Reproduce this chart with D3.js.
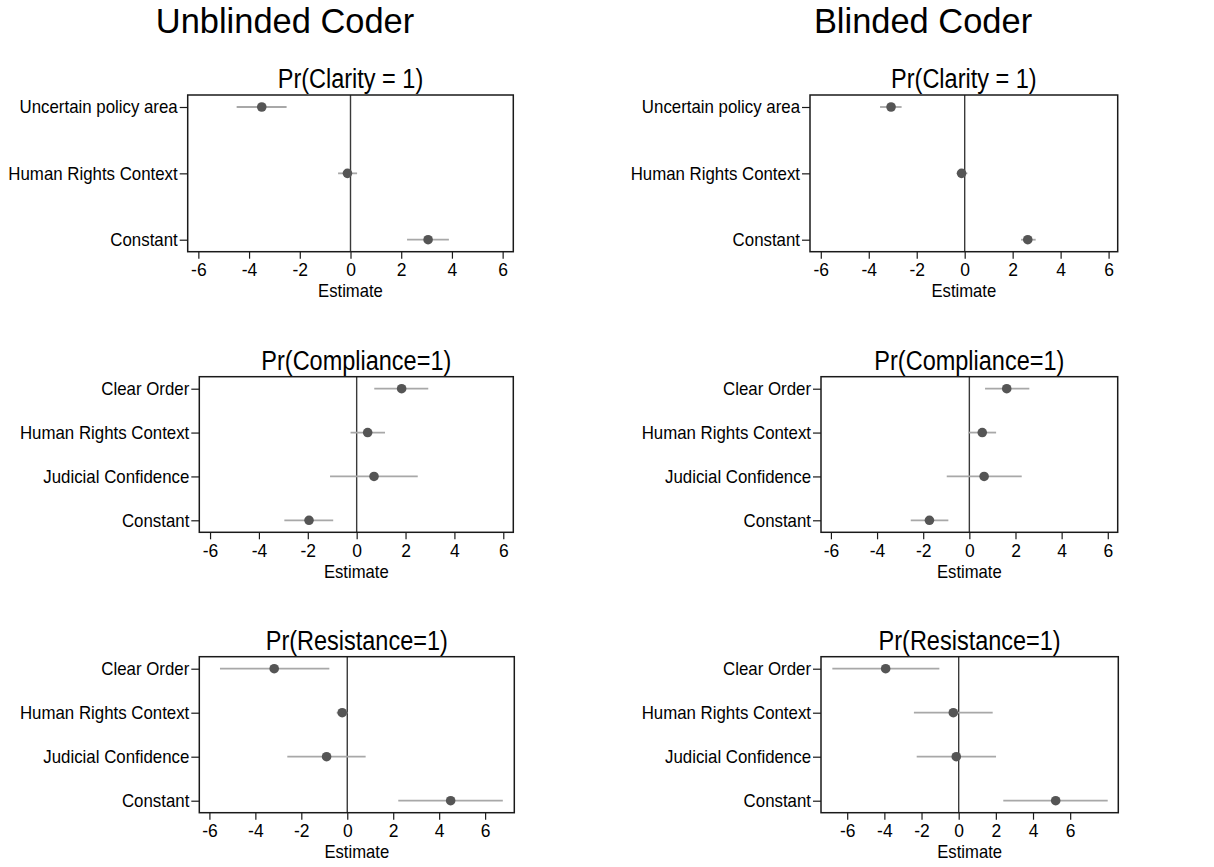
<!DOCTYPE html>
<html>
<head>
<meta charset="utf-8">
<script src="https://cdn.jsdelivr.net/npm/d3@7"></script>
<style>
  html, body { margin: 0; padding: 0; background: #fff; }
  svg { display: block; font-family: "Liberation Sans", Arial, Helvetica, sans-serif; }
</style>
</head>
<body>
<svg id="chart" width="1214" height="867"></svg>
<script>
// ---------- data ----------
const columnTitles = ["Unblinded Coder", "Blinded Coder"];
const panelTitles = ["Pr(Clarity = 1)", "Pr(Compliance=1)", "Pr(Resistance=1)"];
const clarityTerms = ["Uncertain policy area", "Human Rights Context", "Constant"];
const outcomeTerms = ["Clear Order", "Human Rights Context", "Judicial Confidence", "Constant"];
const xTicks = [-6, -4, -2, 0, 2, 4, 6];
const xAxisTitle = "Estimate";

// Unblinded coder
const clarityUnblindedEst = [-3.50, -0.12, 3.06];
const clarityUnblindedLo  = [-4.49, -0.49, 2.23];
const clarityUnblindedHi  = [-2.52,  0.26, 3.88];
const complianceUnblindedEst = [1.84, 0.45, 0.71, -1.95];
const complianceUnblindedLo  = [0.72, -0.25, -1.09, -2.96];
const complianceUnblindedHi  = [2.93, 1.16, 2.50, -0.96];
const resistanceUnblindedEst = [-3.18, -0.22, -0.90, 4.50];
const resistanceUnblindedLo  = [-5.54, -0.46, -2.61, 2.22];
const resistanceUnblindedHi  = [-0.78,  0.01,  0.80, 6.77];

// Blinded coder
const clarityBlindedEst = [-3.07, -0.13, 2.63];
const clarityBlindedLo  = [-3.53, -0.33, 2.35];
const clarityBlindedHi  = [-2.63,  0.11, 2.96];
const complianceBlindedEst = [1.62, 0.56, 0.64, -1.73];
const complianceBlindedLo  = [0.68, -0.04, -0.98, -2.54];
const complianceBlindedHi  = [2.60, 1.16, 2.27, -0.91];
const resistanceBlindedEst = [-3.93, -0.29, -0.13, 5.22];
const resistanceBlindedLo  = [-6.80, -2.41, -2.26, 2.40];
const resistanceBlindedHi  = [-1.04,  1.83,  2.01, 8.02];

// ---------- layout ----------
const panels = [
  { title: panelTitles[0], terms: clarityTerms, est: clarityUnblindedEst, lo: clarityUnblindedLo, hi: clarityUnblindedHi,
    box: [187.7, 95, 513.3, 251.7], xDomain: [-6.42, 6.42] },
  { title: panelTitles[0], terms: clarityTerms, est: clarityBlindedEst, lo: clarityBlindedLo, hi: clarityBlindedHi,
    box: [810, 95, 1117.7, 251.7], xDomain: [-6.45, 6.38] },
  { title: panelTitles[1], terms: outcomeTerms, est: complianceUnblindedEst, lo: complianceUnblindedLo, hi: complianceUnblindedHi,
    box: [199.3, 376.7, 513.3, 532.3], xDomain: [-6.44, 6.41] },
  { title: panelTitles[1], terms: outcomeTerms, est: complianceBlindedEst, lo: complianceBlindedLo, hi: complianceBlindedHi,
    box: [821, 376.7, 1117.7, 532.3], xDomain: [-6.43, 6.43] },
  { title: panelTitles[2], terms: outcomeTerms, est: resistanceUnblindedEst, lo: resistanceUnblindedLo, hi: resistanceUnblindedHi,
    box: [199.3, 656.7, 514.3, 812.7], xDomain: [-6.44, 7.27] },
  { title: panelTitles[2], terms: outcomeTerms, est: resistanceBlindedEst, lo: resistanceBlindedLo, hi: resistanceBlindedHi,
    box: [821, 656.7, 1118.3, 812.7], xDomain: [-7.41, 8.59] }
];

// condensed look: shrink the rendered width of text horizontally
function squish(sel, factor) {
  sel.each(function () {
    const L = this.getComputedTextLength();
    d3.select(this).attr("textLength", L * factor).attr("lengthAdjust", "spacingAndGlyphs");
  });
}

const svg = d3.select("#chart");

// column titles
const colCenters = [285, 923];
svg.selectAll("text.coltitle").data(columnTitles).enter().append("text")
  .attr("class", "coltitle")
  .attr("x", (d, i) => colCenters[i]).attr("y", 33)
  .attr("text-anchor", "middle")
  .attr("font-size", 35.5).attr("fill", "#000")
  .text(d => d)
  .call(squish, 0.97);

panels.forEach(p => {
  const [x0, y0, x1, y1] = p.box;
  const x = d3.scaleLinear().domain(p.xDomain).range([x0, x1]);
  const y = d3.scalePoint().domain(p.terms).range([y0 + 12, y1 - 12]);
  const g = svg.append("g");

  // panel title
  g.append("text")
    .attr("x", (x0 + x1) / 2).attr("y", y0 - 7)
    .attr("text-anchor", "middle")
    .attr("font-size", 27).attr("fill", "#000")
    .text(p.title)
    .call(squish, 0.87);

  // zero line
  g.append("line")
    .attr("x1", x(0)).attr("x2", x(0))
    .attr("y1", y0).attr("y2", y1)
    .attr("stroke", "#3a3a3a").attr("stroke-width", 1.4);

  const rows = p.terms.map((t, i) => ({ term: t, est: p.est[i], lo: p.lo[i], hi: p.hi[i] }));

  // confidence intervals
  g.selectAll("line.ci").data(rows).enter().append("line")
    .attr("class", "ci")
    .attr("x1", d => x(d.lo)).attr("x2", d => x(d.hi))
    .attr("y1", d => y(d.term)).attr("y2", d => y(d.term))
    .attr("stroke", "#a8a8a8").attr("stroke-width", 1.8);

  // point estimates
  g.selectAll("circle.pt").data(rows).enter().append("circle")
    .attr("class", "pt")
    .attr("cx", d => x(d.est)).attr("cy", d => y(d.term))
    .attr("r", 4.8)
    .attr("fill", "#555555");

  // frame
  g.append("rect")
    .attr("x", x0).attr("y", y0)
    .attr("width", x1 - x0).attr("height", y1 - y0)
    .attr("fill", "none").attr("stroke", "#1a1a1a").attr("stroke-width", 1.5);

  // x axis
  const xa = g.append("g")
    .attr("transform", `translate(0,${y1})`)
    .call(d3.axisBottom(x).tickValues(xTicks).tickSize(7).tickSizeOuter(0).tickPadding(4).tickFormat(d3.format("d")));
  xa.select(".domain").remove();
  xa.selectAll(".tick line").attr("stroke", "#1a1a1a").attr("stroke-width", 1.2);
  xa.selectAll(".tick text")
    .attr("font-size", 19).attr("fill", "#000")
    .attr("font-family", "'Liberation Sans', Arial, Helvetica, sans-serif")
    .text(d => d < 0 ? "-" + Math.abs(d) : String(d))
    .call(squish, 0.92);

  g.append("text")
    .attr("x", (x0 + x1) / 2).attr("y", y1 + 45.5)
    .attr("text-anchor", "middle")
    .attr("font-size", 18.5).attr("fill", "#000")
    .text(xAxisTitle)
    .call(squish, 0.9);

  // y axis
  const ya = g.append("g")
    .attr("transform", `translate(${x0},0)`)
    .call(d3.axisLeft(y).tickSize(8).tickSizeOuter(0).tickPadding(2));
  ya.select(".domain").remove();
  ya.selectAll(".tick line").attr("stroke", "#1a1a1a").attr("stroke-width", 1.2);
  ya.selectAll(".tick text")
    .attr("font-size", 18.5).attr("fill", "#000")
    .attr("font-family", "'Liberation Sans', Arial, Helvetica, sans-serif")
    .call(squish, 0.91);
});
</script>
</body>
</html>
